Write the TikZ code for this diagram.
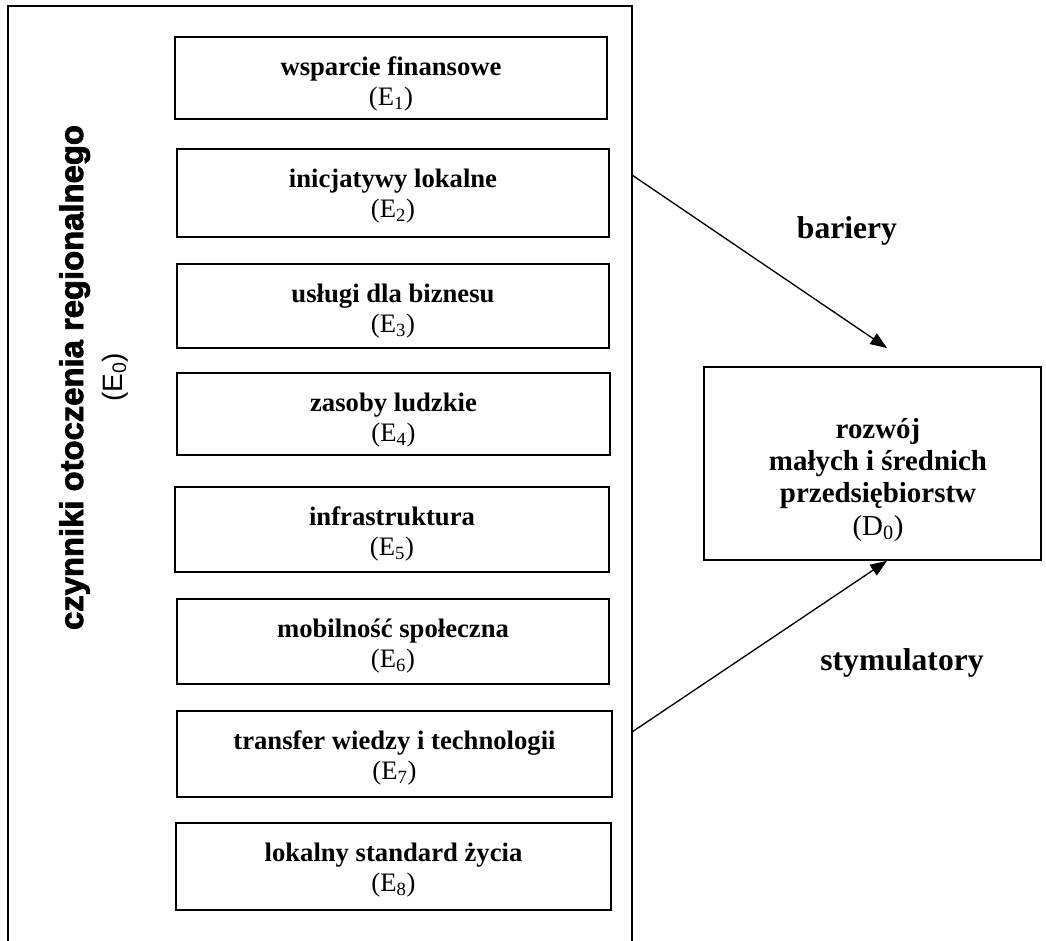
\documentclass[tikz,border=0pt]{standalone}
\usepackage{fontspec}
\setmainfont{Liberation Serif}
\newfontfamily\blkfont[FakeBold=2.5]{Liberation Sans}
\newfontfamily\lsans{Liberation Sans}
\usetikzlibrary{arrows.meta,fit,calc}
\begin{document}
\begin{tikzpicture}[x=0.75pt,y=-0.75pt,
  frame/.style={line width=1.5pt},
  ebox/.style={draw, line width=1.25pt, inner sep=0pt, fit={#1}},
  etext/.style={anchor=north, align=center, inner sep=0pt,
    font=\fontsize{20}{22.5}\selectfont},
  dtext/.style={anchor=north, align=center, inner sep=0pt,
    font=\fontsize{21.7}{24.2}\selectfont},
  lbl/.style={anchor=base, inner sep=0pt,
    font=\bfseries\fontsize{23.7}{26}\selectfont},
  arr/.style={line width=1pt, -{Triangle[length=12.5pt,width=9.5pt]}}
]
\useasboundingbox (0,0) rectangle (1046,940);
% outer frame (open at the bottom)
\draw[frame] (8,945) -- (8,6) -- (632,6) -- (632,945);
% vertical title
\node[rotate=90, anchor=base, inner sep=0pt,
  font=\blkfont\bfseries\fontsize{24.6}{27}\selectfont] (title) at (83,377.5)
  {czynniki otoczenia regionalnego};
\node[rotate=90, anchor=base, inner sep=0pt,
  font=\lsans\fontsize{21}{24}\selectfont] (e0) at (122,377.5)
  {(E\textsubscript{0})};
% factor boxes
\node[ebox={(175,37) (607,119)}] (e1) {};
\node[etext] (e1t) at ($(e1.north)+(0,20.5)$) {{\bfseries wsparcie finansowe}\\(E\textsubscript{1})};
\node[ebox={(177,149) (609,237)}] (e2) {};
\node[etext] (e2t) at ($(e2.north)+(0,20.5)$) {{\bfseries inicjatywy lokalne}\\(E\textsubscript{2})};
\node[ebox={(177,264) (609,348)}] (e3) {};
\node[etext] (e3t) at ($(e3.north)+(0,20.5)$) {{\bfseries usługi dla biznesu}\\(E\textsubscript{3})};
\node[ebox={(177,373) (610,455)}] (e4) {};
\node[etext] (e4t) at ($(e4.north)+(0,20.5)$) {{\bfseries zasoby ludzkie}\\(E\textsubscript{4})};
\node[ebox={(175,487) (609,572)}] (e5) {};
\node[etext] (e5t) at ($(e5.north)+(0,20.5)$) {{\bfseries infrastruktura}\\(E\textsubscript{5})};
\node[ebox={(177,599) (609,684)}] (e6) {};
\node[etext] (e6t) at ($(e6.north)+(0,20.5)$) {{\bfseries mobilność społeczna}\\(E\textsubscript{6})};
\node[ebox={(177,711) (612,797)}] (e7) {};
\node[etext] (e7t) at ($(e7.north)+(0,20.5)$) {{\bfseries transfer wiedzy i technologii}\\(E\textsubscript{7})};
\node[ebox={(176,823) (611,910)}] (e8) {};
\node[etext] (e8t) at ($(e8.north)+(0,20.5)$) {{\bfseries lokalny standard życia}\\(E\textsubscript{8})};
% target box
\node[ebox={(704,367) (1041,560)}] (d0) {};
\node[dtext] (d0t) at (878,418) {{\bfseries rozwój}\\{\bfseries małych i średnich}\\{\bfseries przedsiębiorstw}\\(D\textsubscript{0})};
% connectors
\coordinate (fb) at (632,175);
\coordinate (fs) at (632,732);
\coordinate (bt) at (887,348);
\draw[arr] (fb) -- (bt);
\draw[arr] (fs) -- (d0.south -| bt);
\node[lbl] (bar) at (847,238) {bariery};
\node[lbl] (sty) at (902,670) {stymulatory};
\end{tikzpicture}
\end{document}
